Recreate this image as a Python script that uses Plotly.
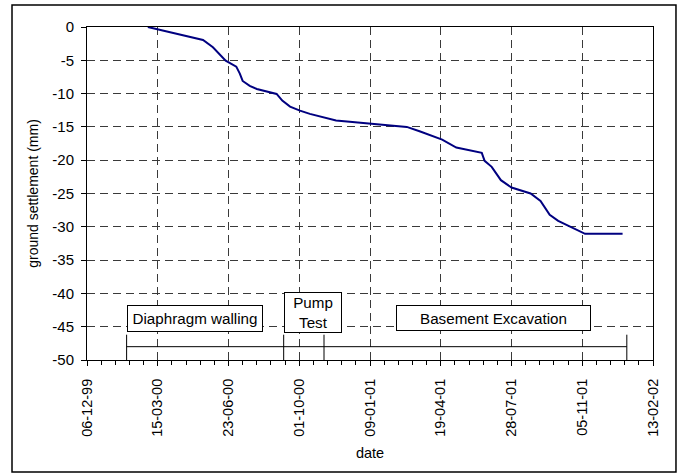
import plotly.graph_objects as go

# ---- data ----
dates = ["2000-03-01", "2000-05-18", "2000-06-01", "2000-06-19", "2000-07-04",
         "2000-07-09", "2000-07-13", "2000-07-23", "2000-08-02", "2000-08-30",
         "2000-09-07", "2000-09-18", "2000-10-02", "2000-10-16", "2000-11-22",
         "2001-01-09", "2001-03-02", "2001-03-21", "2001-04-21", "2001-05-11",
         "2001-06-16", "2001-06-20", "2001-06-30", "2001-07-13", "2001-07-28",
         "2001-08-24", "2001-09-07", "2001-09-20", "2001-10-02", "2001-11-09",
         "2002-01-01"]
settlement = [0, -1.95, -3.05, -5.05, -5.95,
              -7.0, -8.1, -8.85, -9.3, -10.05,
              -11.05, -11.95, -12.55, -13.05, -14.05,
              -14.5, -15.0, -15.7, -16.9, -18.1,
              -18.9, -20.1, -21.0, -23.0, -24.1,
              -25.0, -26.1, -28.2, -29.1, -31.05,
              -31.05]

phase_labels = ["Diaphragm walling", "Pump<br>Test", "Basement Excavation"]
phase_bounds = ["2000-01-31", "2000-09-09", "2000-11-05", "2002-01-07"]
phase_bar_level = -48

x_range = ["1999-12-06", "2002-02-13"]
y_range = [-50, 0]
y_ticks = [0, -5, -10, -15, -20, -25, -30, -35, -40, -45, -50]

# ---- style/layout ----
FONT = "Liberation Sans, Arial, sans-serif"
DAY_MS = 86400000

fig = go.Figure()
fig.add_trace(go.Scatter(x=dates, y=settlement, mode="lines",
                         line=dict(color="#000080", width=2),
                         showlegend=False, hoverinfo="skip"))

shapes = []
# phase bar
shapes.append(dict(type="line", xref="x", yref="y",
                   x0=phase_bounds[0], x1=phase_bounds[-1],
                   y0=phase_bar_level, y1=phase_bar_level,
                   line=dict(color="black", width=1)))
for b in phase_bounds:
    shapes.append(dict(type="line", xref="x", yref="y", x0=b, x1=b,
                       y0=-46.2, y1=-50, line=dict(color="black", width=1)))
# outer chart border
shapes.append(dict(type="rect", xref="paper", yref="paper",
                   x0=-0.1325, x1=1.0406, y0=-0.3363, y1=1.066,
                   line=dict(color="black", width=1.5), layer="below"))

box_specs = [  # center x (date), center y, width px, height px
    ("2000-05-07", -43.7, 136, 27),
    ("2000-10-20", -42.9, 58, 41),
    ("2001-07-03", -43.7, 195, 26),
]
annotations = []
for label, (cx, cy, w, h) in zip(phase_labels, box_specs):
    annotations.append(dict(x=cx, y=cy, xref="x", yref="y", text=label,
                            showarrow=False, width=w - 2, height=h - 2,
                            bordercolor="black", borderwidth=1, borderpad=0,
                            bgcolor="white",
                            font=dict(family=FONT, size=15.2, color="black"),
                            align="center", valign="middle"))

fig.update_layout(
    width=678, height=474,
    margin=dict(l=87, r=25, t=27, b=114),
    paper_bgcolor="white", plot_bgcolor="white",
    font=dict(family=FONT, size=14.5, color="black"),
    shapes=shapes, annotations=annotations,
    xaxis=dict(
        type="date", range=x_range,
        tick0="1999-12-06", dtick=100 * DAY_MS, tickformat="%d-%m-%y",
        tickangle=-90, ticks="outside", ticklen=5, tickcolor="black",
        ticklabelstandoff=7,
        showline=True, linecolor="black", linewidth=1, mirror=True,
        showgrid=True, gridcolor="#3a3a3a", griddash="8px,5px", gridwidth=1,
        minor=dict(dtick=20 * DAY_MS, tick0="1999-12-06", ticks="outside",
                   ticklen=4, tickcolor="black", showgrid=False),
        title=dict(text="date", standoff=12, font=dict(size=14.5)),
        zeroline=False,
    ),
    yaxis=dict(
        range=y_range, tickmode="array", tickvals=y_ticks,
        ticktext=[str(v) for v in y_ticks],
        ticks="outside", ticklen=5, tickcolor="black",
        ticklabelstandoff=4, tickfont=dict(size=15),
        showline=True, linecolor="black", linewidth=1, mirror=True,
        showgrid=True, gridcolor="#3a3a3a", griddash="8px,5px", gridwidth=1,
        zeroline=False,
        title=dict(text="ground settlement (mm)", standoff=10, font=dict(size=14)),
    ),
)

fig.write_html("out.html", config={"displayModeBar": False},
               post_script="document.body.style.margin='0px';")
